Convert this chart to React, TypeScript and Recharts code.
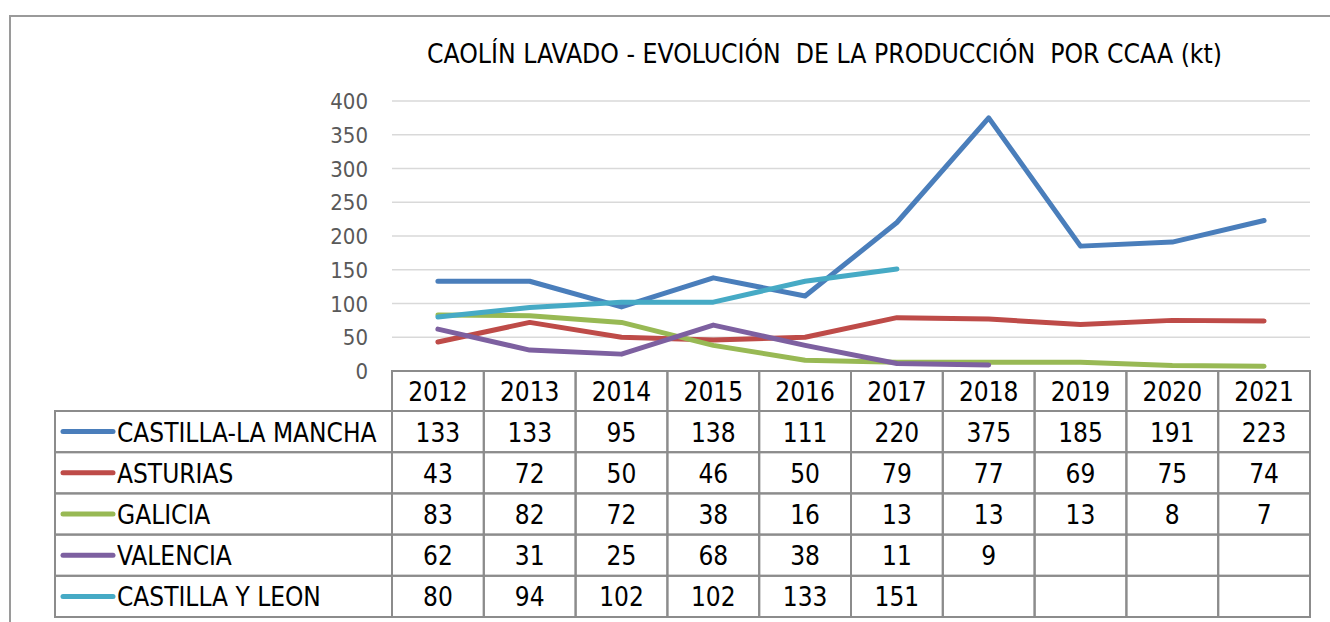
import React from 'react';
import { LineChart, Line, XAxis, YAxis, CartesianGrid } from 'recharts';

const YEARS = ['2012', '2013', '2014', '2015', '2016', '2017', '2018', '2019', '2020', '2021'];
const CASTILLA_LA_MANCHA = [133, 133, 95, 138, 111, 220, 375, 185, 191, 223];
const ASTURIAS = [43, 72, 50, 46, 50, 79, 77, 69, 75, 74];
const GALICIA = [83, 82, 72, 38, 16, 13, 13, 13, 8, 7];
const VALENCIA = [62, 31, 25, 68, 38, 11, 9, null, null, null];
const CASTILLA_Y_LEON = [80, 94, 102, 102, 133, 151, null, null, null, null];
const Y_TICKS = [0, 50, 100, 150, 200, 250, 300, 350, 400];
const TITLE = 'CAOLÍN LAVADO - EVOLUCIÓN  DE LA PRODUCCIÓN  POR CCAA (kt)';

const SERIES = [
  { key: 'clm', name: 'CASTILLA-LA MANCHA', color: '#4A7EBB', values: CASTILLA_LA_MANCHA },
  { key: 'ast', name: 'ASTURIAS', color: '#BE4B48', values: ASTURIAS },
  { key: 'gal', name: 'GALICIA', color: '#98B954', values: GALICIA },
  { key: 'val', name: 'VALENCIA', color: '#7D60A0', values: VALENCIA },
  { key: 'cyl', name: 'CASTILLA Y LEON', color: '#46AAC5', values: CASTILLA_Y_LEON },
];

const DATA = YEARS.map((year, i) => {
  const row: any = { year };
  SERIES.forEach((s) => {
    row[s.key] = s.values[i];
  });
  return row;
});

const W = 1330;
const H = 622;
const PLOT_LEFT = 392;
const PLOT_RIGHT = 1310;
const PLOT_TOP = 101;
const PLOT_BOTTOM = 371;
const COL_W = (PLOT_RIGHT - PLOT_LEFT) / YEARS.length;
const HEADER_H = 40;
const ROW_H = 41.2;
const LEGEND_LEFT = 55;
const FONT = "'DejaVu Sans Condensed', 'DejaVu Sans', sans-serif";
const BORDER = '#8c8c8c';
const TABLE_FS = 26;

const TableColumn = (props: any) => {
  const { x, payload } = props;
  const i = props.index ?? payload.index;
  const left = x - COL_W / 2;
  const top = PLOT_BOTTOM;
  const out: any[] = [];
  out.push(
    <rect key="h" x={left} y={top} width={COL_W} height={HEADER_H} fill="none" stroke={BORDER} strokeWidth={2} />
  );
  out.push(
    <text key="ht" x={x} y={top + HEADER_H / 2 + 10} textAnchor="middle" fontSize={TABLE_FS} fill="#000" fontFamily={FONT}>
      {payload.value}
    </text>
  );
  SERIES.forEach((s, r) => {
    const ry = top + HEADER_H + r * ROW_H;
    out.push(
      <rect key={'r' + r} x={left} y={ry} width={COL_W} height={ROW_H} fill="none" stroke={BORDER} strokeWidth={2} />
    );
    const v = s.values[i];
    if (v !== null && v !== undefined) {
      out.push(
        <text key={'t' + r} x={x} y={ry + ROW_H / 2 + 10} textAnchor="middle" fontSize={TABLE_FS} fill="#000" fontFamily={FONT}>
          {v}
        </text>
      );
    }
    if (i === 0) {
      out.push(
        <rect key={'lr' + r} x={LEGEND_LEFT} y={ry} width={PLOT_LEFT - LEGEND_LEFT} height={ROW_H} fill="none" stroke={BORDER} strokeWidth={2} />
      );
      out.push(
        <line key={'ll' + r} x1={63} x2={113} y1={ry + ROW_H / 2} y2={ry + ROW_H / 2} stroke={s.color} strokeWidth={5} strokeLinecap="round" />
      );
      out.push(
        <text key={'lt' + r} x={117} y={ry + ROW_H / 2 + 10} textAnchor="start" fontSize={TABLE_FS} fill="#000" fontFamily={FONT}>
          {s.name}
        </text>
      );
    }
  });
  return <g>{out}</g>;
};

const YTick = (props: any) => {
  const { y, payload } = props;
  return (
    <text x={368} y={y + 8} textAnchor="end" fontSize={22} fill="#595959" fontFamily={FONT}>
      {payload.value}
    </text>
  );
};

export default function App() {
  return (
    <div style={{ position: 'fixed', left: 0, top: 0, width: W, height: H, overflow: 'hidden', background: '#fff' }}>
      <div
        style={{
          position: 'absolute',
          left: 9,
          top: 15,
          width: 1400,
          height: 700,
          borderLeft: '2px solid #9a9a9a',
          borderTop: '2px solid #9a9a9a',
        }}
      />
      <svg width={W} height={H} style={{ position: 'absolute', left: 0, top: 0 }}>
        <text x={824.5} y={63} textAnchor="middle" fontSize={26.3} fill="#000" fontFamily={FONT} style={{ whiteSpace: 'pre' }}>
          {TITLE}
        </text>
      </svg>
      <div style={{ position: 'absolute', left: 0, top: 0 }}>
        <LineChart
          width={W}
          height={H}
          data={DATA}
          margin={{ top: PLOT_TOP, right: W - PLOT_RIGHT, left: PLOT_LEFT - 60, bottom: 0 }}
        >
          <CartesianGrid vertical={false} stroke="#d9d9d9" strokeWidth={1.5} />
          <XAxis
            dataKey="year"
            height={H - PLOT_BOTTOM}
            axisLine={false}
            tickLine={false}
            tickSize={0}
            tickMargin={0}
            interval={0}
            padding={{ left: COL_W / 2, right: COL_W / 2 }}
            tick={<TableColumn />}
          />
          <YAxis
            width={60}
            domain={[0, 400]}
            ticks={Y_TICKS}
            axisLine={false}
            tickLine={false}
            interval={0}
            tick={<YTick />}
          />
          {SERIES.map((s) => (
            <Line
              key={s.key}
              dataKey={s.key}
              name={s.name}
              stroke={s.color}
              strokeWidth={5}
              dot={false}
              activeDot={false}
              strokeLinecap="round"
              strokeLinejoin="round"
              isAnimationActive={false}
              connectNulls={false}
            />
          ))}
        </LineChart>
      </div>
    </div>
  );
}
